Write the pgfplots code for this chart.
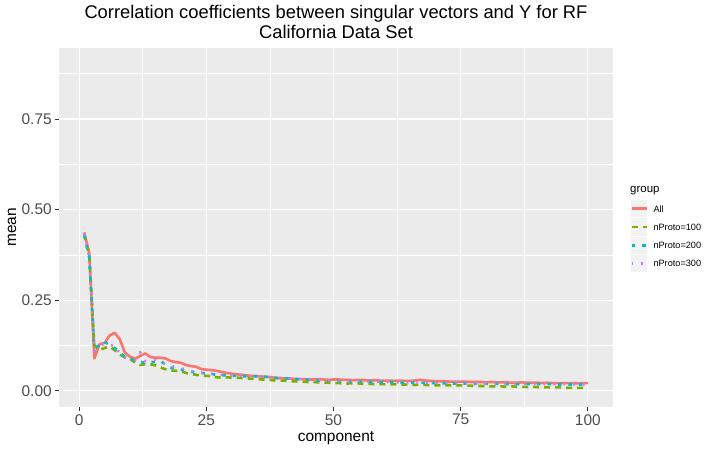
\documentclass[border=0pt]{standalone}
\usepackage{fontspec}
\setmainfont{Liberation Sans}
\usepackage{pgfplots}
\usepackage{pgfplotstable}
\pgfplotsset{compat=1.18}
\definecolor{cAll}{HTML}{F8766D}
\definecolor{cA}{HTML}{7CAE00}
\definecolor{cB}{HTML}{00BFC4}
\definecolor{cC}{HTML}{C77CFF}
\definecolor{panel}{HTML}{EBEBEB}
\definecolor{tickgrey}{HTML}{4D4D4D}
\definecolor{tickline}{HTML}{333333}
\definecolor{keybg}{HTML}{F2F2F2}

\pgfplotstableread{
x all p100 p200 p300
1 0.437 0.432 0.430 0.433
2 0.380 0.372 0.368 0.370
3 0.089 0.125 0.118 0.110
4 0.128 0.112 0.125 0.124
5 0.132 0.118 0.135 0.130
6 0.152 0.122 0.126 0.125
7 0.160 0.112 0.118 0.126
8 0.142 0.100 0.106 0.102
9 0.105 0.092 0.094 0.092
10 0.094 0.088 0.088 0.087
11 0.088 0.078 0.084 0.085
12 0.096 0.071 0.080 0.106
13 0.103 0.073 0.077 0.082
14 0.093 0.073 0.078 0.082
15 0.091 0.070 0.080 0.085
16 0.091 0.064 0.082 0.078
17 0.089 0.059 0.072 0.073
18 0.082 0.056 0.064 0.068
19 0.079 0.055 0.060 0.066
20 0.077 0.054 0.058 0.062
21 0.071 0.049 0.055 0.058
22 0.068 0.046 0.052 0.054
23 0.066 0.044 0.050 0.052
24 0.060 0.042 0.049 0.050
25 0.058 0.041 0.048 0.049
26 0.057 0.040 0.046 0.047
27 0.055 0.037 0.044 0.045
28 0.052 0.036 0.043 0.044
29 0.049 0.037 0.042 0.043
30 0.047 0.036 0.041 0.042
31 0.045 0.036 0.041 0.042
32 0.044 0.035 0.040 0.041
33 0.042 0.034 0.040 0.041
34 0.041 0.033 0.040 0.040
35 0.040 0.032 0.040 0.040
36 0.039 0.031 0.039 0.039
37 0.038 0.030 0.038 0.038
38 0.037 0.029 0.036 0.037
39 0.035 0.028 0.035 0.036
40 0.034 0.028 0.035 0.035
41 0.034 0.027 0.034 0.034
42 0.033 0.026 0.033 0.034
43 0.032 0.026 0.032 0.033
44 0.032 0.025 0.032 0.032
45 0.031 0.024 0.031 0.032
46 0.031 0.024 0.030 0.031
47 0.032 0.023 0.028 0.030
48 0.031 0.023 0.028 0.029
49 0.030 0.022 0.027 0.028
50 0.031 0.021 0.026 0.028
51 0.031 0.021 0.026 0.027
52 0.030 0.020 0.026 0.027
53 0.030 0.020 0.025 0.026
54 0.029 0.021 0.025 0.026
55 0.030 0.020 0.025 0.026
56 0.029 0.019 0.025 0.025
57 0.028 0.019 0.024 0.025
58 0.029 0.018 0.024 0.025
59 0.028 0.018 0.024 0.024
60 0.028 0.018 0.023 0.024
61 0.028 0.017 0.023 0.024
62 0.027 0.018 0.023 0.023
63 0.028 0.017 0.022 0.023
64 0.027 0.017 0.022 0.023
65 0.027 0.016 0.022 0.023
66 0.028 0.016 0.022 0.022
67 0.030 0.016 0.022 0.022
68 0.028 0.016 0.021 0.022
69 0.027 0.015 0.021 0.022
70 0.026 0.015 0.021 0.021
71 0.026 0.015 0.021 0.021
72 0.026 0.015 0.020 0.021
73 0.025 0.015 0.020 0.021
74 0.025 0.014 0.020 0.021
75 0.025 0.015 0.020 0.021
76 0.025 0.014 0.020 0.020
77 0.024 0.014 0.019 0.020
78 0.024 0.013 0.019 0.020
79 0.024 0.013 0.019 0.020
80 0.023 0.013 0.019 0.020
81 0.024 0.012 0.019 0.020
82 0.023 0.012 0.019 0.019
83 0.023 0.012 0.018 0.019
84 0.023 0.011 0.018 0.019
85 0.022 0.012 0.018 0.019
86 0.022 0.011 0.018 0.019
87 0.023 0.011 0.018 0.019
88 0.022 0.010 0.018 0.019
89 0.022 0.011 0.018 0.018
90 0.022 0.010 0.018 0.018
91 0.021 0.010 0.018 0.018
92 0.022 0.009 0.018 0.018
93 0.021 0.009 0.018 0.018
94 0.021 0.009 0.017 0.018
95 0.021 0.009 0.017 0.018
96 0.021 0.008 0.017 0.018
97 0.021 0.008 0.017 0.018
98 0.020 0.008 0.017 0.017
99 0.021 0.008 0.017 0.017
100 0.021 0.008 0.017 0.017
}\datatable

\tikzset{
  sAll/.style={cAll, line width=2.6bp, line join=round},
  sA/.style={cA, line width=2.6bp, line join=round, dash pattern=on 6bp off 5bp},
  sB/.style={cB, line width=2.6bp, line join=round, dash pattern=on 3.5bp off 7bp},
  sC/.style={cC, line width=2.6bp, line join=round, dash pattern=on 1.8bp off 8bp},
}

\begin{document}
\begin{tikzpicture}
\useasboundingbox (0bp,0bp) rectangle (712bp,450bp);
\begin{axis}[
  at={(59bp,43bp)}, anchor=south west,
  scale only axis, width=554bp, height=359bp,
  xmin=-3.95, xmax=104.95, ymin=-0.045, ymax=0.946,
  axis background/.style={fill=panel},
  axis line style={draw=none},
  xtick={0,25,50,75,100}, ytick={0,0.25,0.5,0.75},
  minor xtick={12.5,37.5,62.5,87.5}, minor ytick={0.125,0.375,0.625,0.875},
  grid=both,
  major grid style={white, line width=1.1bp},
  minor grid style={white, line width=0.55bp},
  tick align=outside, tick pos=left,
  major tick length=3.8bp, minor tick length=0bp,
  tick style={tickline, line width=0.8bp},
  /pgf/number format/assume math mode=true,
  ticklabel style={font=\fontsize{15.5}{16}\selectfont, text=tickgrey},
  yticklabel style={/pgf/number format/fixed, /pgf/number format/fixed zerofill, /pgf/number format/precision=2},
  xticklabel style={/pgf/number format/fixed},
  xlabel={component}, ylabel={mean},
  label style={font=\fontsize{15.5}{16}\selectfont},
  xlabel style={at={([yshift=-34bp]axis description cs:0.5,0)}, anchor=base},
  ylabel style={at={([xshift=-47bp]axis description cs:0,0.5)}, anchor=center, rotate=0},
  title={Correlation coefficients between singular vectors and Y for RF\\California Data Set},
  title style={font=\fontsize{18.4}{20.5}\selectfont, align=center, at={([yshift=3.5bp]axis description cs:0.5,1)}, anchor=base},
  clip=true,
]
\addplot[sAll] table[x=x, y=all] {\datatable};
\addplot[sA] table[x=x, y=p100] {\datatable};
\addplot[sB] table[x=x, y=p200] {\datatable};
\addplot[sC] table[x=x, y=p300] {\datatable};
\end{axis}
% legend
\node[anchor=base west, font=\fontsize{11.5}{13}\selectfont, inner sep=0pt] at (630bp,257.7bp) {group};
\foreach \k/\s/\t in {0/sAll/All, 1/sA/{nProto=100}, 2/sB/{nProto=200}, 3/sC/{nProto=300}} {
  \pgfmathsetmacro{\yc}{241.3-18.35*\k}
  \fill[keybg] (630.7bp,\yc bp-8.65bp) rectangle (647.3bp,\yc bp+8.65bp);
  \draw[\s] (631.5bp,\yc bp) -- (646.5bp,\yc bp);
  \node[anchor=west, font=\fontsize{9.2}{11}\selectfont, inner sep=0pt] at (653.3bp,\yc bp) {\t};
}
\end{tikzpicture}
\end{document}
